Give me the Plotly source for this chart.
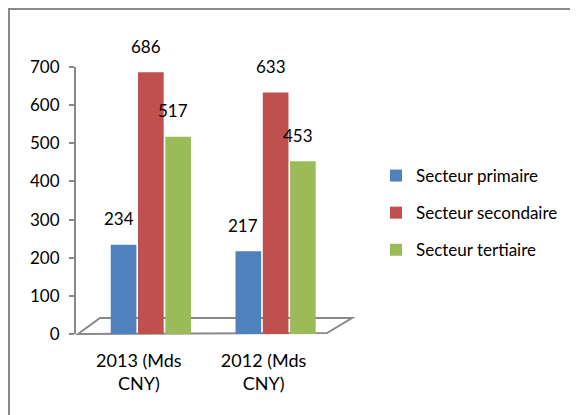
import plotly.graph_objects as go

categories = ["2013 (Mds<br>CNY)", "2012 (Mds<br>CNY)"]
series_names = ["Secteur primaire", "Secteur secondaire", "Secteur tertiaire"]
primaire = [234, 217]
secondaire = [686, 633]
tertiaire = [517, 453]
colors = ["#4F81BD", "#C0504D", "#9BBB59"]
y_ticks = [0, 100, 200, 300, 400, 500, 600, 700]

FONT = "Lato, 'Open Sans', sans-serif"
GRAY = "#898989"

# page has an 8px body margin; figure sized so that it fills the window
OFF = 8
W, H = 578 - OFF, 415 - OFF
PL, PR, PT, PB = 76, 338, 67, 334          # plot area in window pixels
L, R, T, B = PL - OFF, W - (PR - OFF), PT - OFF, H - (PB - OFF)
pw, ph = PR - PL, PB - PT

def px(x):
    return (x - PL) / pw

def py(y):
    return (PB - y) / ph

bargap = 0.344
slot = (1 - bargap) * pw / 2.1 / 3   # pixel width of each bar slot

fig = go.Figure()
annotations = []
for i, (name, vals) in enumerate(zip(series_names, [primaire, secondaire, tertiaire])):
    fig.add_trace(go.Bar(
        x=categories, y=vals, name=name,
        marker=dict(color=colors[i], line=dict(width=0)),
        legendgroup=name, hoverinfo="x+y+name",
    ))
    for c, v in zip(categories, vals):
        annotations.append(dict(
            x=c, y=v, xref="x", yref="y", text=str(v), showarrow=False,
            xshift=(i - 1) * slot - 5, yshift=26, xanchor="center", yanchor="middle",
            font=dict(family=FONT, size=17, color="#000000"),
        ))

shapes = [
    # outer chart frame (partly cropped)
    dict(type="rect", xref="paper", yref="paper",
         x0=px(9), x1=px(600), y0=py(9), y1=py(440),
         line=dict(color=GRAY, width=2), fillcolor="rgba(0,0,0,0)", layer="below"),
    # 3D floor
    dict(type="path", xref="paper", yref="paper",
         path=f"M {px(78)},{py(334)} L {px(100)},{py(318)} L {px(352)},{py(318)} L {px(327)},{py(333)} Z",
         line=dict(color=GRAY, width=2), fillcolor="rgba(0,0,0,0)", layer="below"),
]

fig.update_layout(
    width=W, height=H,
    margin=dict(l=L, r=R, t=T, b=B, pad=0, autoexpand=False),
    paper_bgcolor="white", plot_bgcolor="white",
    font=dict(family=FONT, size=16, color="#000000"),
    barmode="group", bargap=bargap, bargroupgap=0.06,
    showlegend=True,
    legend=dict(x=px(376), y=py(158), xanchor="left", yanchor="top",
                font=dict(family=FONT, size=17, color="#000000"),
                tracegroupgap=12, itemwidth=30, bgcolor="rgba(0,0,0,0)"),
    xaxis=dict(range=[-0.6, 1.5], showline=False, showgrid=False, ticks="",
               tickfont=dict(family=FONT, size=18), zeroline=False,
               ticklabelshift=-12, ticklabelstandoff=14, automargin=False),
    yaxis=dict(range=[0, 700], tickvals=y_ticks, showgrid=False, zeroline=False,
               showline=True, linecolor=GRAY, linewidth=2,
               ticks="outside", ticklen=5, tickcolor=GRAY, tickwidth=2,
               tickfont=dict(family=FONT, size=17), ticklabelstandoff=6, automargin=False),
    shapes=shapes,
    annotations=annotations,
)

fig.write_html("out.html")
